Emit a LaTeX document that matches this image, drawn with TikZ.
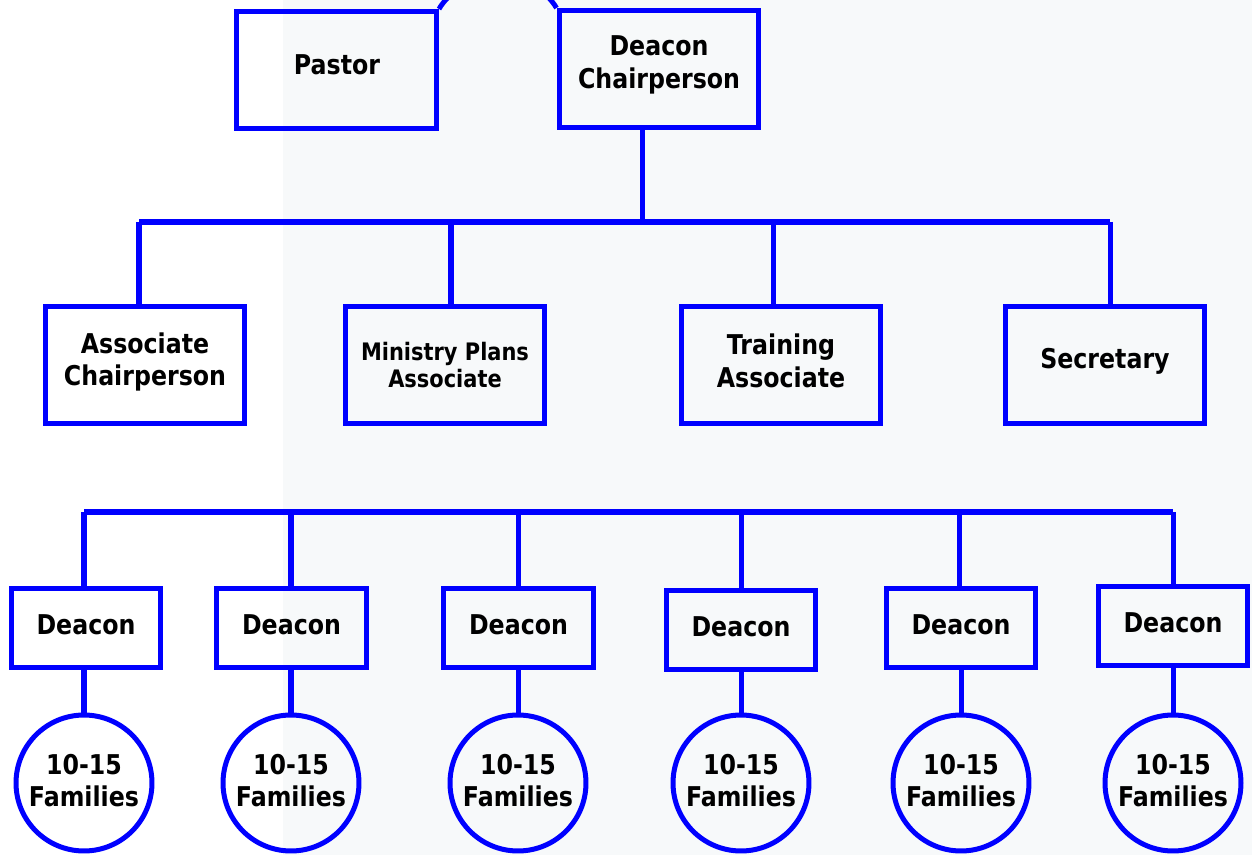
\documentclass[tikz,border=0pt]{standalone}
\usepackage{fontspec}
\setmainfont{DejaVu Sans}[FakeStretch=0.87]
\definecolor{chartblue}{RGB}{0,0,255}
\definecolor{paper}{RGB}{247,249,250}
\begin{document}
\begin{tikzpicture}[x=0.02cm,y=-0.02cm,
  wire/.style={draw=chartblue,line width=2.85pt},
  rolebox/.style={draw=chartblue,line width=2.85pt,minimum width=4cm,minimum height=2.34cm,inner sep=0pt},
  deaconbox/.style={draw=chartblue,line width=2.85pt,minimum width=3cm,minimum height=1.6cm,inner sep=0pt},
  family/.style={draw=chartblue,line width=2.85pt,circle,minimum size=2.72cm,inner sep=0pt},
  caption/.style={align=center,inner sep=0pt,font=\bfseries\fontsize{15.5}{18.6}\selectfont},
  smallcaption/.style={align=center,inner sep=0pt,font=\bfseries\fontsize{13.7}{15.9}\selectfont}]
\useasboundingbox (0,0) rectangle (1252,855);
\clip (0,0) rectangle (1252,855);
% pale backdrop
\fill[paper] (283,0) rectangle (1252,855);

% top level
\node[rolebox] (pastor) at (336.5,70) {};
\node[rolebox] (chair) at (659,69) {};
\node[caption] (pastortxt) at (337,65) {Pastor};
\node[caption] (chairtxt) at (659,65) {Deacon\\Chairperson};
\draw[wire] (pastor.north east) to[out=60,in=120] (chair.north west);

% second level
\node[rolebox] (assoc) at (145,365) {};
\node[rolebox] (plans) at (445,365) {};
\node[rolebox] (train) at (781,365) {};
\node[rolebox] (sec) at (1105,365) {};
\node[caption] (assoctxt) at (145,362) {Associate\\Chairperson};
\node[smallcaption] (planstxt) at (445,365) {Ministry Plans\\Associate};
\node[caption] (traintxt) at (781,361) {Training\\Associate};
\node[caption] (sectxt) at (1105,361) {Secretary};

\coordinate (hub) at (642,222);
\coordinate (ta) at (139,222);
\coordinate (tb) at (451,222);
\coordinate (tc) at (773,222);
\coordinate (td) at (1110,222);
\draw[wire] (chair.south -| hub) -- (hub);
\draw[wire] (ta) -- (td);
\foreach \t/\b in {ta/assoc,tb/plans,tc/train,td/sec}
  \draw[wire] (\t) -- (\t |- \b.north);

% deacons and their families
\coordinate (ua) at (84,512);
\coordinate (ub) at (291,512);
\coordinate (uc) at (518,512);
\coordinate (ud) at (741,512);
\coordinate (ue) at (959,512);
\coordinate (uf) at (1173,512);
\draw[wire] (ua) -- (uf);

\foreach \n/\x/\y in {a/86/628,b/291.5/628,c/518.5/628,d/741/630,e/961/628,f/1173/626}{
  \node[deaconbox] (d\n) at (\x,\y) {};
  \node[caption] (d\n txt) at (\x,\y-3) {Deacon};
}
\foreach \n/\x in {a/84,b/291,c/518,d/741,e/961,f/1173}{
  \node[family] (f\n) at (\x,783) {};
  \node[caption,font=\bfseries\fontsize{15.5}{18.2}\selectfont] (f\n txt) at (\x,781) {10-15\\Families};
}

\foreach \u/\d/\f in {ua/da/fa,ub/db/fb,uc/dc/fc,ud/dd/fd,ue/de/fe,uf/df/ff}{
  \draw[wire] (\u) -- (\u |- \d.north);
  \draw[wire] (\d.south -| \f.north) -- (\f.north);
}
\end{tikzpicture}
\end{document}
